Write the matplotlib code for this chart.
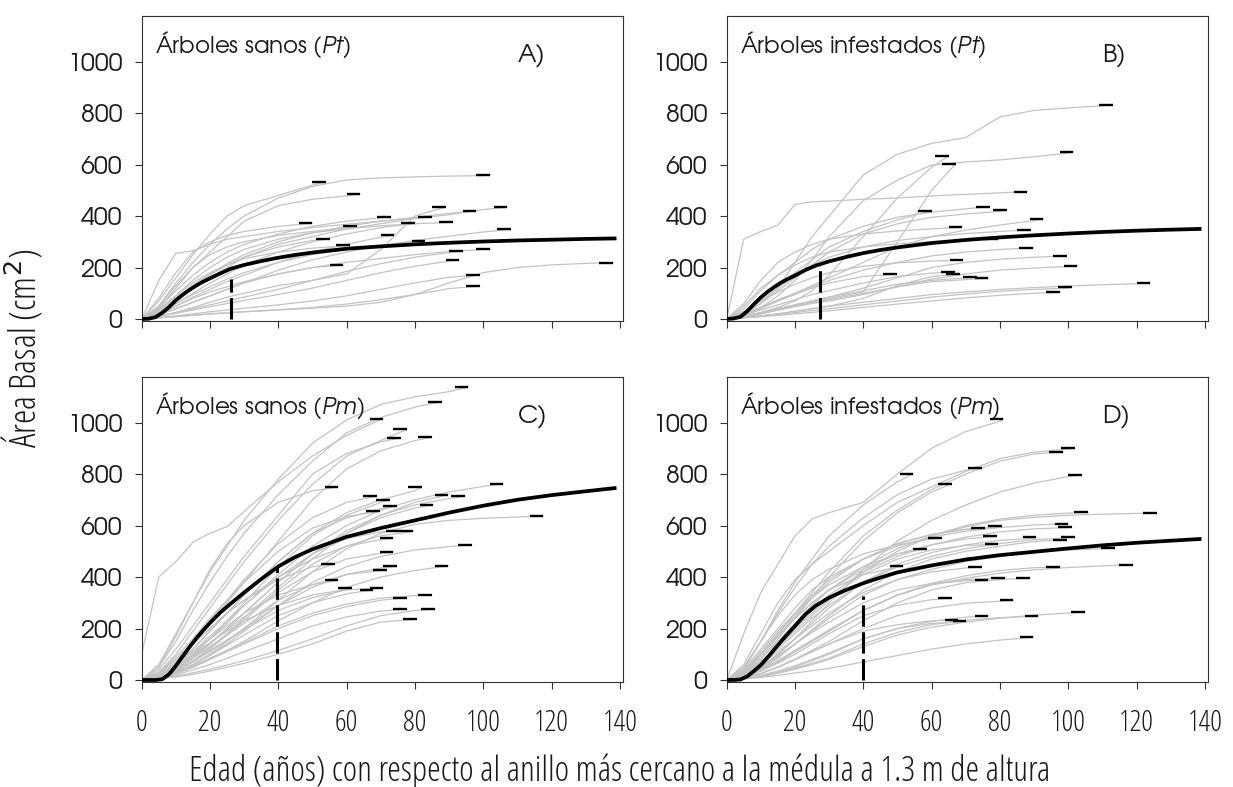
import matplotlib
matplotlib.use("Agg")
import matplotlib.pyplot as plt
from matplotlib import font_manager
from matplotlib.font_manager import FontProperties

# ages (years) at which every tree series below is sampled
grid = [0, 5, 10, 15, 20, 25, 30, 40, 50, 60, 70, 80, 90, 100, 110, 120, 130]

# one entry per tree: (age of last ring, basal area at the grid ages below that age ..., basal area at last ring)
trees_A = [
    (102, [0, 50, 140, 220, 290, 350, 400, 470, 515, 540, 548, 552, 555, 557, 559]),
    (54, [0, 70, 160, 250, 330, 400, 440, 480, 520, 533]),
    (64, [0, 40, 120, 200, 260, 320, 380, 440, 465, 478, 486]),
    (107, [0, 25, 70, 120, 160, 200, 240, 290, 320, 350, 370, 390, 405, 425, 434]),
    (98, [0, 30, 80, 130, 175, 215, 250, 300, 335, 360, 380, 395, 410, 421]),
    (89, [0, 10, 25, 45, 65, 85, 100, 130, 150, 175, 270, 400, 435]),
    (91, [0, 35, 90, 150, 200, 240, 270, 310, 335, 350, 362, 370, 375, 378]),
    (85, [0, 150, 255, 265, 290, 310, 320, 340, 355, 368, 380, 392, 397]),
    (80, [0, 20, 60, 100, 140, 175, 210, 260, 300, 330, 355, 372]),
    (73, [0, 45, 110, 170, 220, 260, 290, 330, 360, 380, 393, 397]),
    (63, [0, 50, 130, 200, 250, 280, 300, 325, 340, 355, 361]),
    (50, [0, 80, 180, 260, 300, 325, 340, 360, 372]),
    (108, [0, 15, 40, 65, 90, 115, 140, 190, 230, 260, 285, 305, 322, 338, 348]),
    (55, [0, 30, 80, 130, 170, 210, 240, 280, 305, 312]),
    (74, [0, 20, 50, 85, 115, 145, 170, 220, 260, 290, 318, 326]),
    (83, [0, 25, 60, 95, 125, 155, 180, 220, 250, 270, 285, 300, 304]),
    (61, [0, 40, 90, 140, 180, 210, 235, 260, 275, 285, 287]),
    (59, [0, 15, 40, 65, 90, 115, 140, 175, 200, 210]),
    (94, [0, 10, 25, 40, 55, 70, 85, 115, 150, 185, 215, 240, 258, 265]),
    (102, [0, 20, 50, 80, 105, 125, 145, 175, 200, 220, 235, 250, 262, 270, 271]),
    (93, [0, 10, 22, 35, 48, 60, 72, 95, 120, 150, 180, 205, 225, 229]),
    (99, [0, 5, 12, 20, 28, 35, 42, 55, 70, 90, 115, 140, 162, 171]),
    (99, [0, 4, 9, 14, 19, 24, 28, 36, 45, 58, 75, 95, 118, 128]),
    (138, [0, 5, 10, 15, 20, 24, 28, 35, 42, 50, 65, 95, 140, 180, 200, 210, 216, 219]),
]

trees_B = [
    (113, [0, 20, 60, 120, 220, 320, 400, 560, 640, 682, 705, 785, 810, 820, 828, 831]),
    (101.5, [0, 15, 45, 90, 150, 230, 320, 460, 540, 598, 610, 618, 630, 645, 650]),
    (65, [0, 10, 25, 45, 70, 110, 170, 320, 470, 590, 633]),
    (67, [0, 8, 20, 35, 50, 65, 80, 105, 300, 500, 602]),
    (88, [0, 310, 340, 365, 445, 455, 458, 465, 470, 478, 484, 490, 495]),
    (60, [0, 30, 80, 130, 180, 230, 280, 340, 385, 421]),
    (77, [0, 40, 110, 170, 220, 270, 310, 360, 395, 415, 428, 436]),
    (82, [0, 20, 60, 110, 160, 210, 260, 330, 370, 395, 408, 418, 423]),
    (92.7, [0, 15, 40, 70, 100, 130, 160, 220, 280, 320, 345, 365, 382, 390]),
    (69, [0, 60, 150, 220, 260, 290, 310, 330, 342, 350, 357]),
    (89, [0, 25, 70, 120, 170, 210, 240, 280, 305, 320, 332, 340, 346]),
    (79.5, [0, 50, 120, 170, 210, 240, 260, 280, 292, 300, 306, 310]),
    (89.7, [0, 20, 45, 75, 100, 125, 150, 190, 220, 245, 260, 270, 277]),
    (99.5, [0, 10, 25, 40, 55, 70, 85, 120, 160, 200, 220, 232, 240, 245]),
    (102.7, [0, 10, 22, 35, 48, 60, 70, 95, 125, 155, 175, 190, 198, 204, 207]),
    (69.3, [0, 30, 70, 105, 135, 160, 180, 205, 218, 225, 229]),
    (49.8, [0, 20, 45, 70, 95, 120, 140, 165, 175]),
    (66.8, [0, 15, 35, 55, 75, 95, 110, 140, 165, 178, 184]),
    (68.3, [0, 5, 12, 20, 30, 40, 50, 80, 130, 165, 175]),
    (73.2, [0, 10, 25, 40, 55, 70, 85, 110, 135, 150, 160, 164]),
    (76.6, [0, 8, 20, 35, 50, 62, 75, 100, 125, 145, 153, 158]),
    (124, [0, 5, 12, 20, 30, 40, 50, 65, 80, 95, 105, 115, 122, 128, 133, 137, 141]),
    (101, [0, 5, 10, 17, 25, 33, 40, 55, 70, 85, 97, 108, 115, 120, 123]),
    (97.6, [0, 4, 9, 14, 20, 26, 32, 45, 58, 70, 82, 92, 100, 104]),
]

trees_C = [
    (95.6, [0, 60, 180, 300, 420, 520, 620, 780, 920, 1010, 1070, 1100, 1120, 1138]),
    (87.8, [0, 50, 150, 270, 380, 480, 570, 720, 850, 960, 1020, 1060, 1081]),
    (70.7, [100, 400, 460, 535, 570, 596, 655, 770, 870, 950, 1012, 1015]),
    (77.6, [0, 30, 100, 190, 280, 370, 460, 620, 760, 870, 930, 973]),
    (75.8, [0, 40, 120, 210, 300, 390, 480, 640, 800, 880, 925, 941]),
    (84.9, [0, 20, 70, 140, 220, 300, 380, 540, 700, 820, 890, 930, 943]),
    (57.6, [0, 50, 170, 300, 430, 530, 600, 690, 735, 749]),
    (82, [0, 20, 60, 120, 190, 260, 330, 460, 570, 650, 700, 735, 749]),
    (105.9, [0, 15, 50, 100, 160, 220, 290, 410, 520, 600, 660, 700, 730, 752, 762]),
    (68.8, [0, 25, 80, 150, 230, 310, 390, 530, 630, 690, 714]),
    (72.7, [0, 15, 50, 100, 160, 230, 300, 440, 560, 640, 690, 701]),
    (89.8, [0, 10, 35, 75, 125, 180, 240, 360, 470, 570, 640, 690, 720]),
    (94.6, [0, 12, 40, 85, 140, 200, 260, 380, 490, 580, 640, 680, 705, 714]),
    (74.7, [0, 20, 60, 120, 190, 260, 330, 460, 570, 630, 665, 675]),
    (69.8, [0, 30, 90, 160, 240, 310, 380, 500, 590, 635, 655]),
    (85.4, [0, 15, 45, 90, 140, 200, 260, 380, 490, 570, 630, 668, 681]),
    (117.6, [0, 10, 30, 60, 100, 150, 200, 310, 420, 510, 570, 605, 620, 628, 633, 638]),
    (75.6, [0, 20, 60, 110, 170, 230, 290, 400, 490, 550, 575, 580]),
    (79.5, [0, 10, 35, 70, 120, 175, 230, 350, 450, 520, 560, 577]),
    (73.7, [0, 30, 80, 140, 200, 260, 310, 400, 470, 520, 545, 551]),
    (96.6, [0, 10, 30, 60, 100, 140, 190, 290, 380, 440, 480, 505, 518, 525]),
    (73.7, [0, 15, 50, 95, 145, 195, 245, 340, 420, 470, 492, 497]),
    (56.6, [0, 25, 80, 140, 200, 260, 310, 390, 440, 452]),
    (57.6, [0, 20, 60, 110, 160, 210, 260, 330, 370, 387]),
    (74.7, [0, 10, 35, 70, 110, 155, 200, 290, 360, 410, 435, 441]),
    (71.7, [0, 15, 45, 85, 130, 175, 220, 310, 370, 410, 425, 428]),
    (89.8, [0, 8, 25, 50, 80, 115, 150, 230, 300, 360, 400, 425, 444]),
    (61.5, [0, 20, 55, 100, 145, 190, 230, 290, 330, 352, 357]),
    (67.8, [0, 10, 30, 60, 95, 135, 175, 250, 300, 335, 350]),
    (70.7, [0, 12, 40, 75, 115, 155, 195, 270, 320, 350, 358, 359]),
    (77.6, [0, 8, 25, 50, 80, 110, 140, 200, 250, 285, 310, 320]),
    (84.9, [0, 10, 30, 55, 85, 115, 145, 210, 260, 295, 318, 328, 331]),
    (77.6, [0, 8, 20, 40, 60, 85, 110, 160, 210, 245, 268, 275]),
    (85.9, [0, 6, 15, 28, 42, 58, 75, 115, 160, 210, 250, 270, 275]),
    (80.5, [0, 5, 12, 22, 35, 50, 65, 100, 140, 190, 225, 236]),
]

trees_D = [
    (81, [0, 180, 340, 450, 560, 625, 650, 690, 800, 900, 965, 1005, 1012]),
    (101.9, [0, 60, 180, 300, 390, 450, 500, 600, 690, 750, 810, 860, 885, 897, 900]),
    (98.5, [0, 30, 100, 180, 260, 340, 420, 560, 660, 740, 800, 850, 878, 886]),
    (74.6, [0, 50, 150, 260, 360, 450, 520, 630, 720, 780, 815, 825]),
    (54.6, [0, 40, 150, 270, 380, 470, 560, 680, 770, 801]),
    (65.9, [0, 20, 80, 160, 240, 320, 400, 540, 650, 730, 763]),
    (103.9, [0, 15, 50, 100, 160, 230, 300, 430, 540, 620, 680, 730, 765, 790, 798]),
    (105.8, [0, 20, 70, 130, 190, 250, 310, 420, 500, 560, 600, 625, 640, 648, 651]),
    (125.9, [0, 25, 80, 150, 220, 290, 350, 440, 510, 560, 595, 620, 632, 640, 644, 647, 649]),
    (100, [0, 30, 100, 180, 260, 330, 390, 470, 520, 555, 578, 592, 602, 607]),
    (101, [0, 20, 70, 130, 200, 270, 330, 420, 480, 525, 555, 575, 587, 592, 594]),
    (80.5, [0, 40, 120, 200, 280, 350, 400, 470, 530, 565, 585, 595, 597]),
    (75.6, [0, 25, 90, 170, 250, 320, 380, 470, 530, 565, 585, 590]),
    (79, [0, 30, 100, 170, 240, 300, 350, 430, 490, 525, 548, 558]),
    (90.7, [0, 15, 50, 100, 160, 220, 280, 380, 450, 495, 525, 542, 551, 554]),
    (101.9, [0, 20, 60, 120, 180, 240, 290, 380, 440, 480, 510, 530, 545, 552, 555]),
    (99.5, [0, 10, 40, 85, 140, 195, 250, 350, 420, 470, 500, 520, 538, 545]),
    (62.9, [0, 50, 150, 250, 330, 390, 430, 490, 525, 548, 551]),
    (58.5, [0, 35, 110, 190, 260, 320, 370, 440, 490, 509]),
    (79.5, [0, 20, 70, 130, 200, 260, 320, 410, 470, 505, 522, 528]),
    (113.7, [0, 15, 45, 90, 140, 190, 240, 330, 390, 430, 460, 480, 495, 505, 510, 513]),
    (51.7, [0, 30, 100, 170, 240, 300, 350, 410, 438, 441]),
    (74.6, [0, 20, 60, 110, 160, 210, 260, 340, 390, 420, 435, 439]),
    (97.6, [0, 10, 35, 70, 110, 150, 190, 270, 330, 375, 405, 425, 436, 440]),
    (119, [0, 12, 40, 75, 115, 155, 195, 270, 330, 370, 395, 415, 428, 437, 443, 448]),
    (76.6, [0, 15, 50, 95, 140, 185, 225, 300, 350, 375, 386, 389]),
    (81.5, [0, 10, 35, 70, 110, 150, 190, 270, 330, 370, 390, 396, 398]),
    (88.8, [0, 8, 25, 50, 80, 115, 150, 230, 300, 350, 378, 390, 396]),
    (65.9, [0, 10, 35, 65, 100, 140, 180, 250, 290, 312, 318]),
    (83.9, [0, 8, 25, 50, 80, 110, 140, 200, 250, 280, 298, 306, 309]),
    (67.8, [0, 8, 25, 50, 80, 110, 140, 190, 215, 230, 234]),
    (70.2, [0, 6, 18, 35, 55, 80, 105, 160, 200, 220, 227, 228]),
    (76.6, [0, 5, 15, 30, 50, 75, 100, 160, 200, 228, 244, 249]),
    (91.2, [0, 5, 14, 28, 45, 65, 85, 140, 185, 215, 232, 242, 247, 249]),
    (104.9, [0, 5, 14, 26, 42, 60, 80, 130, 175, 205, 225, 240, 252, 260, 264]),
    (89.8, [0, 4, 10, 18, 27, 36, 45, 70, 95, 120, 140, 155, 166]),
]

# fitted growth model
fit_age = [0, 2, 4, 6, 8, 10, 12, 14, 16, 18, 20, 23, 26, 30, 35, 40, 45, 50, 60, 70, 80, 90, 100, 110, 120, 130, 139]
fit_A = [0, 1, 7, 24, 46, 73, 94, 113, 130, 145, 158, 177, 195, 210, 225, 238, 249, 258, 273, 282, 290, 296, 301, 305, 308, 311, 313]
fit_B = [0, 2, 8, 30, 58, 84, 106, 125, 142, 156, 169, 190, 207, 224, 241, 256, 268, 278, 295, 307, 317, 325, 332, 338, 343, 347, 350]
fit_C = [0, 0, 0, 3, 22, 55, 92, 128, 162, 193, 222, 262, 296, 340, 392, 441, 478, 508, 556, 590, 620, 650, 677, 700, 718, 733, 746]
fit_D = [0, 0, 2, 14, 35, 58, 88, 120, 151, 181, 210, 255, 288, 320, 350, 376, 398, 418, 445, 468, 485, 498, 511, 523, 533, 541, 548]

# vertical dashed marker (age, height) per panel
mark_age = [26, 27.3, 39.7, 40]
mark_top = [157, 210, 438, 325]

titles = ["Árboles sanos ($\\mathit{Pt}$)", "Árboles infestados ($\\mathit{Pt}$)",
          "Árboles sanos ($\\mathit{Pm}$)", "Árboles infestados ($\\mathit{Pm}$)"]
letters = ["A)", "B)", "C)", "D)"]
yticks = [0, 200, 400, 600, 800, 1000]
xticks = [0, 20, 40, 60, 80, 100, 120, 140]

# pick fonts close to the original (Century Gothic and a light condensed sans)
installed = {f.name for f in font_manager.fontManager.ttflist}


def pick(cands, fallback='DejaVu Sans'):
    for c in cands:
        if c in installed:
            return c
    return fallback


gothic = pick(['URW Gothic', 'URW Gothic L', 'TeX Gyre Adventor', 'Questrial', 'Didact Gothic', 'Jost', 'Lato'])
if 'Open Sans' in installed:
    cond = FontProperties(family='Open Sans', stretch='condensed', weight=300)
else:
    cond = FontProperties(family=pick(['IBM Plex Sans Condensed', 'Lato']), weight=300)

plt.rcParams['mathtext.fontset'] = 'custom'
plt.rcParams['mathtext.rm'] = gothic
plt.rcParams['mathtext.it'] = gothic + ':italic'

txtcol = '#1a1a1a'

fig = plt.figure(figsize=(12.33, 7.87), dpi=100)
W, H = 1233, 787
boxes = [(141.7, 15.7), (726.7, 15.7), (141.7, 376.7), (726.7, 376.7)]
axw, axh = 481.6, 305.0

panels = [(trees_A, fit_A), (trees_B, fit_B), (trees_C, fit_C), (trees_D, fit_D)]
for i, (trees, fit) in enumerate(panels):
    x0, y0 = boxes[i]
    ax = fig.add_axes([x0 / W, 1 - (y0 + axh) / H, axw / W, axh / H])

    for end, vals in trees:
        ages = [a for a in grid if a < end]
        xs = ages[:len(vals) - 1] + [end]
        ys = vals[:len(xs) - 1] + [vals[-1]]
        ax.plot(xs, ys, color='#c3c3c3', lw=0.9, zorder=1)
    for end, vals in trees:
        ax.plot([end - 4, end], [vals[-1], vals[-1]], color='black', lw=1.7,
                solid_capstyle='butt', zorder=3)

    ax.plot(fit_age, fit, color='black', lw=2.7, zorder=4, solid_capstyle='butt')
    ax.plot([mark_age[i], mark_age[i]], [0, mark_top[i]], color='black', lw=2.2,
            dashes=(7, 1.8), zorder=4)

    ax.set_xlim(0, 141)
    ax.set_ylim(-6.6, 1178)
    ax.set_xticks(xticks)
    ax.set_yticks(yticks)
    ax.tick_params(direction='out', length=5, width=0.8, color='#333333')
    ax.tick_params(axis='y', pad=9)
    ax.tick_params(axis='x', pad=14)
    for lab in ax.get_yticklabels():
        lab.set_fontfamily(gothic)
        lab.set_fontsize(18)
        lab.set_color(txtcol)
    if i < 2:
        ax.set_xticklabels([])
    else:
        for lab in ax.get_xticklabels():
            lab.set_fontproperties(cond)
            lab.set_fontsize(21)
            lab.set_color(txtcol)
    for s in ax.spines.values():
        s.set_linewidth(0.8)
        s.set_color('#333333')

    ax.text(4, 1033, titles[i], fontfamily=gothic, fontsize=16.5,
            color=txtcol, va='baseline', ha='left')
    ax.text(110, 1000, letters[i], fontfamily=gothic, fontsize=18,
            color=txtcol, va='baseline', ha='left')

ylab = fig.text(22 / W, 1 - 348.7 / H, "Área Basal (cm$^2$)", rotation=90, ha='center', va='center',
                fontproperties=cond, color=txtcol)
ylab.set_fontsize(26)
xlab = fig.text(620 / W, 1 - 771 / H, "Edad (años) con respecto al anillo más cercano a la médula a 1.3 m de altura",
                ha='center', va='center', fontproperties=cond, color=txtcol)
xlab.set_fontsize(25)

fig.savefig("out.png", dpi=100)
